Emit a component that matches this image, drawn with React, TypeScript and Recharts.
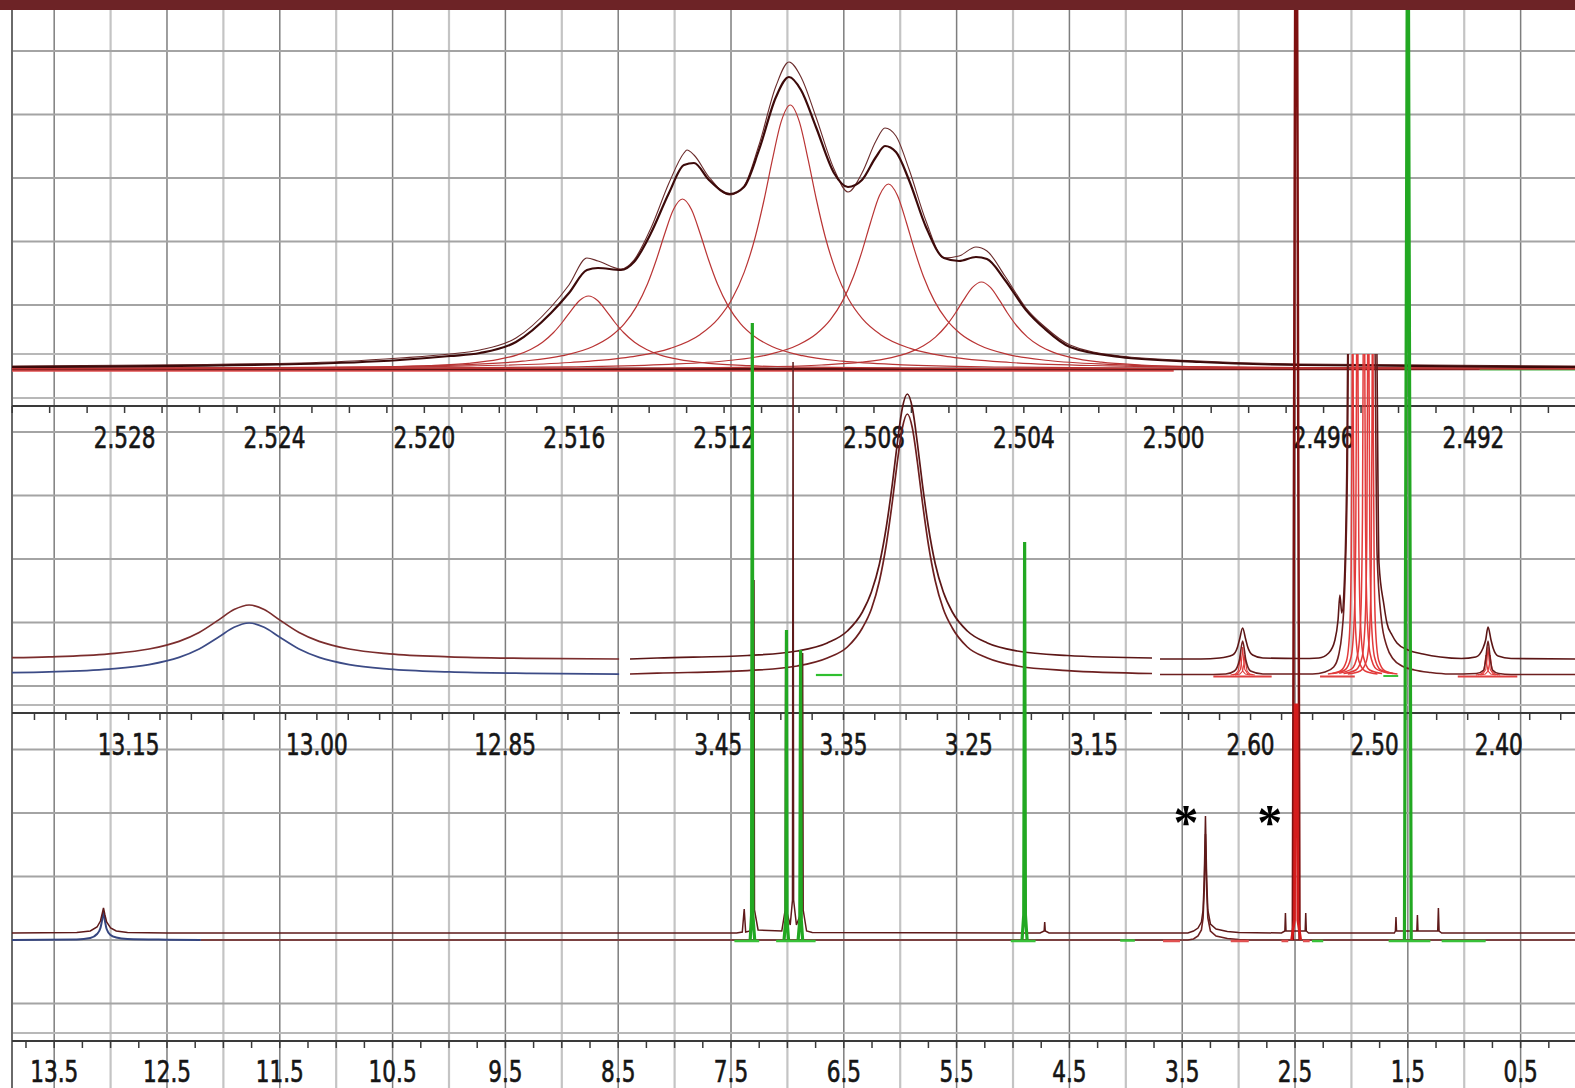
import React from 'react';
import { LineChart, Line, XAxis, YAxis, ReferenceLine, ReferenceDot } from 'recharts';

type Pair = [number, number | null];

const W = 1575;
const H = 1088;
const FONT = "'DejaVu Sans Condensed', 'DejaVu Sans', sans-serif";
const AX = '#3a3a3a';

// ---------------- grid (ppm of the full-range axis, grid rows) ----------------
const GRID_HALF_PPM = [13.5, 12.5, 11.5, 10.5, 9.5, 8.5, 7.5, 6.5, 5.5, 4.5, 3.5, 2.5, 1.5, 0.5];
const GRID_INT_PPM = [13, 12, 11, 10, 9, 8, 7, 6, 5, 4, 3, 2, 1];
const GRID_ROWS = [0, 1, 2, 3, 4, 5, 6, 7, 8, 9, 10, 11, 12, 13, 14, 15];
const FRAME_ROWS = [4.772, 5.465, 10.299, 15.465];

// ---------------- axis domains ----------------
const FULL_DOMAIN: [number, number] = [0.018, 13.874];
const TOP_DOMAIN: [number, number] = [2.48929, 2.531005];
const MID_A_DOMAIN: [number, number] = [12.7585, 13.2429];
const MID_B_DOMAIN: [number, number] = [3.1037, 3.5204];
const MID_C_DOMAIN: [number, number] = [2.3385, 2.673];

// ---------------- tick labels ----------------
const TOP_LABELS = ['2.528', '2.524', '2.520', '2.516', '2.512', '2.508', '2.504', '2.500', '2.496', '2.492'];
const MID_A_LABELS = ['13.15', '13.00', '12.85'];
const MID_B_LABELS = ['3.45', '3.35', '3.25', '3.15'];
const MID_C_LABELS = ['2.60', '2.50', '2.40'];
const BOTTOM_LABELS = ['13.5', '12.5', '11.5', '10.5', '9.5', '8.5', '7.5', '6.5', '5.5', '4.5', '3.5', '2.5', '1.5', '0.5'];

// ---------------- top panel: quintet at 2.51 ppm ----------------
const TOP_FIT: Pair[] = [
  [2.531005, 2], [2.523319, 5], [2.52065, 9], [2.519316, 13], [2.518515, 16], [2.517554, 27], [2.51662, 56],
  [2.51614, 76], [2.51566, 99], [2.515366, 101], [2.514752, 99], [2.514405, 107], [2.513951, 136], [2.513471, 176],
  [2.513071, 204], [2.512804, 206], [2.512404, 189], [2.511843, 175], [2.511469, 182], [2.511069, 219],
  [2.510615, 272], [2.510269, 292], [2.509948, 279], [2.509548, 242], [2.509067, 196], [2.508694, 182],
  [2.50832, 189], [2.507947, 212], [2.507706, 223], [2.507413, 217], [2.507066, 189], [2.506612, 142],
  [2.506132, 111], [2.505731, 108], [2.505278, 112], [2.504984, 110], [2.504504, 89], [2.503943, 59],
  [2.503436, 40], [2.502769, 22], [2.501435, 12], [2.499299, 7], [2.496631, 4], [2.48929, 2],
];
const TOP_EXP: Pair[] = [
  [2.531005, 3], [2.523319, 6], [2.52065, 11], [2.519316, 15], [2.518515, 19], [2.517554, 31], [2.51662, 62],
  [2.51614, 84], [2.51566, 111], [2.515366, 108], [2.514752, 100], [2.514405, 109], [2.513951, 141], [2.513471, 186],
  [2.513071, 216], [2.512991, 219], [2.512804, 214], [2.512404, 192], [2.511843, 174], [2.511469, 183],
  [2.511069, 224], [2.510615, 283], [2.510269, 307], [2.509948, 292], [2.509548, 252], [2.509067, 200],
  [2.508694, 177], [2.50832, 196], [2.507947, 228], [2.507706, 241], [2.507413, 233], [2.507066, 200],
  [2.506612, 148], [2.506132, 111], [2.505731, 113], [2.505278, 122], [2.504984, 118], [2.504504, 93],
  [2.503943, 61], [2.503436, 42], [2.502769, 24], [2.501435, 13], [2.499299, 8], [2.496631, 5], [2.48929, 3],
];
const TOP_COMP_CENTERS = [2.515617, 2.513111, 2.510234, 2.507613, 2.505131];
const TOP_COMP_OFFSETS = [0, 0.00024, 0.00048, 0.000694, 0.000934, 0.001228, 0.001548, 0.001922, 0.002402, 0.003203, 0.00427, 0.005871, 0.00854, 0.01201];
const TOP_COMP_VALUES = [
  [73, 68.5, 57.7, 47, 36.5, 26.8, 19.5, 13.9, 9.6, 5.7, 3.3, 1.8, 0.9, 0.4],
  [170, 159.5, 134.5, 109.5, 85, 62.4, 45.4, 32.5, 22.3, 13.3, 7.8, 4.2, 2.0, 1.0],
  [264, 247.6, 208.8, 170, 132, 96.9, 70.5, 50.4, 34.6, 20.6, 12.1, 6.5, 3.1, 1.6],
  [185, 173.5, 146.3, 119.1, 92.5, 67.9, 49.4, 35.3, 24.2, 14.4, 8.5, 4.6, 2.2, 1.1],
  [87, 81.6, 68.8, 56, 43.5, 31.9, 23.2, 16.6, 11.4, 6.8, 4.0, 2.1, 1.0, 0.5],
];
const TOP_COMP_EDGES = [[0.3, 0.2], [0.5, 0.4], [0.7, 0.7], [0.5, 0.6], [0.2, 0.3]];
const TOP_BASE_DARK: Pair[] = [[2.531005, 0], [2.49183, 0]];
const TOP_BASE_RED: Pair[] = [[2.531005, -1.8], [2.5, -1.8]];
const TOP_BASE_GREEN: Pair[] = [[2.49183, -0.5], [2.48929, -0.5]];

// ---------------- middle panel ----------------
const MID_A_UPPER: Pair[] = [
  [13.2429, 17.3], [13.2134, 18.2], [13.1656, 21.2], [13.1337, 26], [13.1098, 33.6], [13.0938, 42.5],
  [13.0779, 55.4], [13.066, 65.4], [13.054, 70], [13.042, 65.4], [13.0301, 55.4], [13.0142, 42.5],
  [12.9982, 33.6], [12.9743, 26], [12.9424, 21.2], [12.8946, 18.2], [12.8309, 16.7], [12.7592, 16],
];
const MID_A_LOWER: Pair[] = [
  [13.2429, 2.3], [13.2134, 3.1], [13.1656, 5.9], [13.1337, 10.4], [13.1098, 17.6], [13.0938, 26],
  [13.0779, 38.2], [13.066, 47.7], [13.054, 52], [13.042, 47.7], [13.0301, 38.2], [13.0142, 26],
  [12.9982, 17.6], [12.9743, 10.4], [12.9424, 5.9], [12.8946, 3.1], [12.8309, 1.6], [12.7592, 0.9],
];
const MID_B_UPPER: Pair[] = [
  [3.5204, 16], [3.4986, 17], [3.4267, 19.5], [3.3868, 24], [3.3629, 32], [3.3469, 44], [3.3349, 63],
  [3.3277, 83], [3.3213, 111], [3.3158, 148], [3.311, 191], [3.307, 232], [3.303, 267], [3.299, 281],
  [3.295, 267], [3.291, 232], [3.287, 191], [3.2822, 148], [3.2767, 111], [3.2703, 83], [3.2631, 63],
  [3.2511, 44], [3.2351, 32], [3.2112, 24], [3.1713, 19.5], [3.1037, 17],
];
const MID_B_LOWER: Pair[] = [
  [3.5204, 1], [3.4986, 1.8], [3.4267, 4.4], [3.3868, 9], [3.3629, 17], [3.3469, 28], [3.3349, 47],
  [3.3277, 66], [3.3213, 94], [3.3158, 130.5], [3.311, 173], [3.307, 213], [3.303, 247], [3.299, 261],
  [3.295, 247], [3.291, 213], [3.287, 173], [3.2822, 130.5], [3.2767, 94], [3.2703, 66], [3.2631, 47],
  [3.2511, 28], [3.2351, 17], [3.2112, 9], [3.1713, 4.4], [3.1037, 1.5],
];
const MID_B_GREEN: Pair[] = [[3.372, 0], [3.351, 0]];
const MID_C_UPPER: Pair[] = [
  [2.673, 16], [2.64, 16], [2.625, 17], [2.6145, 20], [2.6105, 28], [2.6088, 36], [2.6064, 47], [2.604, 36],
  [2.6023, 28], [2.5983, 20], [2.59, 17], [2.56, 16.5], [2.545, 17], [2.537, 22], [2.532, 35], [2.5295, 55],
  [2.528, 80], [2.5265, 62], [2.5245, 90], [2.5225, 200], [2.521, 400], [2.499, 400], [2.4965, 112],
  [2.4925, 70], [2.4901, 52], [2.486, 40], [2.482, 32], [2.473, 25], [2.461, 21], [2.447, 18], [2.43, 16.5],
  [2.4185, 18], [2.4126, 27], [2.4105, 35], [2.4086, 48], [2.4062, 35], [2.4045, 27], [2.4005, 19],
  [2.39, 16.5], [2.3385, 16],
];
const MID_C_LOWER: Pair[] = [
  [2.673, 0.5], [2.64, 0.5], [2.62, 1], [2.613, 4], [2.609, 15], [2.6064, 34], [2.6038, 15], [2.6, 4],
  [2.59, 1], [2.55, 1], [2.54, 3], [2.533, 8], [2.529, 20], [2.5265, 40], [2.524, 90], [2.522, 200],
  [2.5205, 400], [2.5005, 400], [2.498, 120], [2.4945, 55], [2.49, 28], [2.485, 16], [2.478, 9],
  [2.468, 5], [2.455, 2.5], [2.44, 1], [2.418, 1.5], [2.412, 5], [2.4105, 15], [2.4086, 34], [2.4067, 15],
  [2.405, 5], [2.4, 1.5], [2.39, 0.5], [2.3385, 0.5],
];
const MID_C_DMSO_CENTERS = [2.5177, 2.514, 2.5086, 2.5051, 2.5016];
const MID_C_DMSO_OFFSETS = [0, 0.0005, 0.0012, 0.0025, 0.005, 0.01, 0.02];
const MID_C_DMSO_VALUES = [
  [400, 260, 110, 42, 14, 4, 1],
  [400, 330, 140, 55, 18, 5, 1.5],
  [400, 360, 160, 62, 21, 6, 1.8],
  [400, 330, 140, 55, 18, 5, 1.5],
  [400, 260, 110, 42, 14, 4, 1],
];
const MID_C_SAT_CENTERS = [2.6082, 2.6064, 2.6046, 2.4104, 2.4086, 2.4068];
const MID_C_SAT_OFFSETS = [0, 0.0008, 0.0018, 0.004, 0.008];
const MID_C_SAT_VALUES = [
  [20, 11, 4, 1, 0], [28, 15, 5.5, 1.4, 0], [20, 11, 4, 1, 0],
  [20, 11, 4, 1, 0], [28, 15, 5.5, 1.4, 0], [20, 11, 4, 1, 0],
];
const MID_C_RED_BASE: Pair[] = [
  [2.63, -1.5], [2.583, -1.5], [2.58, null], [2.544, -1.5], [2.516, -1.5], [2.51, null], [2.433, -1.5], [2.385, -1.5],
];
const MID_C_GREEN: Pair[] = [[2.493, -1], [2.481, -1]];

// ---------------- bottom panel: full spectrum ----------------
const BOTTOM_UPPER: Pair[] = [
  [13.874, 7], [13.3, 7.5], [13.18, 9], [13.12, 13], [13.09, 19], [13.075, 26], [13.063, 32], [13.05, 25],
  [13.035, 18], [13.0, 12], [12.95, 9], [12.85, 7.5], [12.5, 7], [7.45, 7], [7.4, 8], [7.383, 31], [7.37, 8],
  [7.33, 9], [7.3, 30], [7.296, 360], [7.292, 30], [7.26, 10], [7.05, 9], [7.02, 30], [7.015, 308], [7.01, 30],
  [6.975, 15], [6.955, 40], [6.95, 578], [6.945, 40], [6.92, 15], [6.87, 30], [6.865, 287], [6.86, 30],
  [6.83, 9], [6.78, 7.5], [4.76, 7], [4.724, 9], [4.719, 18], [4.714, 9], [4.68, 7], [3.45, 7], [3.4, 9],
  [3.36, 12], [3.33, 18], [3.315, 30], [3.305, 60], [3.298, 100], [3.294, 124], [3.29, 100], [3.283, 60],
  [3.273, 30], [3.25, 16], [3.2, 11], [3.1, 8.5], [3.0, 7.5], [2.62, 7], [2.59, 9], [2.585, 27], [2.58, 9],
  [2.41, 9], [2.405, 27], [2.4, 9], [2.38, 7], [1.62, 7], [1.61, 9], [1.605, 23], [1.6, 9], [1.42, 9],
  [1.415, 25], [1.41, 9], [1.235, 9], [1.229, 32], [1.223, 9], [1.2, 7], [0.018, 7],
];
const BOTTOM_LOWER_BLUE: Pair[] = [
  [13.874, 0], [13.3, 0.5], [13.18, 2], [13.12, 6], [13.09, 12], [13.075, 20], [13.063, 28], [13.05, 19],
  [13.035, 11], [13.0, 5], [12.95, 2.5], [12.85, 1], [12.5, 0.3], [12.2, 0],
];
const BOTTOM_LOWER: Pair[] = [
  [12.2, 0], [3.45, 0], [3.4, 1], [3.36, 4], [3.33, 10], [3.315, 22], [3.305, 50], [3.298, 85], [3.294, 106],
  [3.29, 85], [3.283, 50], [3.273, 22], [3.25, 9], [3.2, 4], [3.1, 1.5], [3.0, 0.5], [2.9, 0], [0.018, 0],
];
const BOTTOM_GREEN_PEAKS: Pair[][] = [
  [[7.33, 0], [7.318, 25], [7.311, 617], [7.306, 25], [7.29, 0]],
  [[7.03, 0], [7.014, 20], [7.008, 310], [7.003, 20], [6.99, 0]],
  [[6.905, 0], [6.89, 20], [6.883, 290], [6.877, 20], [6.865, 0]],
  [[4.92, 0], [4.905, 25], [4.897, 398], [4.89, 25], [4.875, 0]],
  [[1.53, 0], [1.506, 930], [1.494, 930], [1.47, 0]],
];
const BOTTOM_GREEN_BASE: Pair[] = [
  [7.47, -1], [7.25, -1], [7.2, null], [7.1, -1], [6.75, -1], [6.7, null], [5.02, -1], [4.8, -1], [4.7, null],
  [4.05, -0.5], [3.92, -0.5], [3.9, null], [2.35, -1], [2.25, -1], [2.2, null], [1.67, -1], [1.3, -1],
  [1.25, null], [1.2, -1], [0.81, -1],
];
const BOTTOM_RED_BASE: Pair[] = [
  [3.67, -1], [3.52, -1], [3.5, null], [3.07, -1], [2.91, -1], [2.9, null], [2.62, -1], [2.56, -1],
  [2.55, null], [2.43, -1], [2.37, -1],
];
const BOTTOM_DMSO_TALL: Pair[] = [[2.52, 0], [2.499, 930], [2.481, 930], [2.46, 0]];
const BOTTOM_DMSO_LOW: Pair[] = [[2.53, 0], [2.505, 20], [2.4985, 235], [2.4815, 235], [2.475, 20], [2.45, 0]];
const ASTERISKS: Pair[] = [[3.466, 119], [2.725, 119]];

// ---------------- helpers ----------------
const pts = (arr: Pair[]) => arr.map(([x, y]) => ({ x, y }));

function mirrorPeak(center: number, offsets: number[], values: number[], left?: Pair, right?: Pair): Pair[] {
  const out: Pair[] = [];
  if (left) out.push(left);
  for (let i = offsets.length - 1; i >= 1; i--) out.push([center + offsets[i], values[i]]);
  out.push([center, values[0]]);
  for (let i = 1; i < offsets.length; i++) out.push([center - offsets[i], values[i]]);
  if (right) out.push(right);
  return out;
}

function tickRange(a: number, b: number, step: number): number[] {
  const out: number[] = [];
  const n = Math.round((a - b) / step);
  for (let i = 0; i <= n; i++) out.push(Math.round((a - i * step) * 1e6) / 1e6);
  return out;
}

const TOP_TICKS = tickRange(2.531, 2.49, 0.001);
const MID_A_TICKS = tickRange(13.225, 12.775, 0.025);
const MID_B_TICKS = tickRange(3.5, 3.125, 0.025);
const MID_C_TICKS = tickRange(2.65, 2.35, 0.025);
const BOTTOM_TICKS = tickRange(13.75, 0.25, 0.25);

function makeTick(labels: string[], digits: number, dy: number) {
  return (props: any) => {
    const { x, y, payload } = props;
    const s = Number(payload.value).toFixed(digits);
    if (!labels.includes(s)) return <g />;
    return (
      <text
        transform={`translate(${x},${y + dy}) scale(1,1.25)`}
        textAnchor="middle"
        fontSize={24}
        fontFamily={FONT}
        fill="#151515"
        stroke="#151515"
        strokeWidth={0.5}
      >
        {s}
      </text>
    );
  };
}

const lineProps = {
  dataKey: 'y',
  dot: false,
  activeDot: false,
  isAnimationActive: false,
  connectNulls: false,
} as const;

function axisProps(domain: [number, number], ticks: number[], labels: string[], digits: number, height: number, dy: number) {
  return {
    dataKey: 'x',
    type: 'number' as const,
    domain,
    reversed: true,
    allowDataOverflow: true,
    ticks,
    interval: 0 as const,
    height,
    tickSize: 7,
    tickMargin: 0,
    axisLine: { stroke: AX, strokeWidth: 2 },
    tickLine: { stroke: AX, strokeWidth: 1.5 },
    tick: makeTick(labels, digits, dy),
  };
}

function Background() {
  return (
    <LineChart width={W} height={H} margin={{ top: 10, right: 0, bottom: 0, left: 12 }}>
      <XAxis dataKey="x" type="number" domain={FULL_DOMAIN} reversed allowDataOverflow hide />
      <YAxis type="number" domain={[-0.6457, 16.331]} reversed allowDataOverflow hide />
      {GRID_INT_PPM.map((v) => (
        <ReferenceLine key={'gi' + v} x={v} stroke="#c4c4c4" strokeWidth={2.2} />
      ))}
      {GRID_HALF_PPM.map((v) => (
        <ReferenceLine key={'gh' + v} x={v} stroke="#7e7e7e" strokeWidth={1.5} />
      ))}
      {GRID_ROWS.map((v) => (
        <ReferenceLine key={'gr' + v} y={v} stroke="#a4a4a4" strokeWidth={2} />
      ))}
      {FRAME_ROWS.map((v) => (
        <ReferenceLine key={'fr' + v} y={v} stroke="#b8b8b8" strokeWidth={2} />
      ))}
      <ReferenceLine x={13.874} stroke="#6a6a6a" strokeWidth={2} />
      <Line {...lineProps} data={pts([[13.874, 0], [0.018, 0]])} stroke="none" />
    </LineChart>
  );
}

function TopPanel() {
  return (
    <LineChart width={W} height={470} margin={{ top: 10, right: 0, bottom: 0, left: 12 }}>
      <XAxis {...axisProps(TOP_DOMAIN, TOP_TICKS, TOP_LABELS, 3, 64, 35)} />
      <YAxis type="number" domain={[-37, 359]} allowDataOverflow hide />
      <Line {...lineProps} type="linear" data={pts(TOP_BASE_RED)} stroke="#e05050" strokeWidth={1.8} />
      <Line {...lineProps} type="linear" data={pts(TOP_BASE_DARK)} stroke="#5a0f0f" strokeWidth={2.6} />
      <Line {...lineProps} type="linear" data={pts(TOP_BASE_GREEN)} stroke="#3cae3c" strokeWidth={2.2} />
      {TOP_COMP_CENTERS.map((c, i) => (
        <Line
          key={'tc' + i}
          {...lineProps}
          type="monotone"
          data={pts(
            mirrorPeak(c, TOP_COMP_OFFSETS, TOP_COMP_VALUES[i], [TOP_DOMAIN[1], TOP_COMP_EDGES[i][0]], [TOP_DOMAIN[0], TOP_COMP_EDGES[i][1]])
          )}
          stroke="#b93434"
          strokeWidth={1.2}
        />
      ))}
      <Line {...lineProps} type="monotone" data={pts(TOP_EXP)} stroke="#6a2b2b" strokeWidth={1.1} />
      <Line {...lineProps} type="monotone" data={pts(TOP_FIT)} stroke="#3d0a0a" strokeWidth={2.2} />
    </LineChart>
  );
}

const MID_TOP = 354;
const MID_AXIS_H = 64;
const MID_H = 359 + MID_AXIS_H;

function MidA() {
  return (
    <LineChart width={608} height={MID_H} margin={{ top: 0, right: 0, bottom: 0, left: 0 }}>
      <XAxis {...axisProps(MID_A_DOMAIN, MID_A_TICKS, MID_A_LABELS, 2, MID_AXIS_H, 35)} />
      <YAxis type="number" domain={[-38, 321]} allowDataOverflow hide />
      <Line {...lineProps} type="monotone" data={pts(MID_A_LOWER)} stroke="#3c4b86" strokeWidth={1.7} />
      <Line {...lineProps} type="monotone" data={pts(MID_A_UPPER)} stroke="#7b2d2d" strokeWidth={1.7} />
    </LineChart>
  );
}

function MidB() {
  return (
    <LineChart width={522} height={MID_H} margin={{ top: 0, right: 0, bottom: 0, left: 0 }}>
      <XAxis {...axisProps(MID_B_DOMAIN, MID_B_TICKS, MID_B_LABELS, 2, MID_AXIS_H, 35)} />
      <YAxis type="number" domain={[-38, 321]} allowDataOverflow hide />
      <Line {...lineProps} type="linear" data={pts(MID_B_GREEN)} stroke="#2fbf2f" strokeWidth={2.2} />
      <Line {...lineProps} type="monotone" data={pts(MID_B_LOWER)} stroke="#6d1f1f" strokeWidth={1.7} />
      <Line {...lineProps} type="monotone" data={pts(MID_B_UPPER)} stroke="#5c1616" strokeWidth={1.7} />
    </LineChart>
  );
}

function MidC() {
  return (
    <LineChart width={415} height={MID_H} margin={{ top: 0, right: 0, bottom: 0, left: 0 }}>
      <XAxis {...axisProps(MID_C_DOMAIN, MID_C_TICKS, MID_C_LABELS, 2, MID_AXIS_H, 35)} />
      <YAxis type="number" domain={[-38, 321]} allowDataOverflow hide />
      <Line {...lineProps} type="linear" data={pts(MID_C_RED_BASE)} stroke="#e04040" strokeWidth={2.2} />
      <Line {...lineProps} type="linear" data={pts(MID_C_GREEN)} stroke="#3cc03c" strokeWidth={2} />
      {MID_C_SAT_CENTERS.map((c, i) => (
        <Line key={'sat' + i} {...lineProps} type="linear" data={pts(mirrorPeak(c, MID_C_SAT_OFFSETS, MID_C_SAT_VALUES[i]))} stroke="#e03a3a" strokeWidth={1.1} />
      ))}
      {MID_C_DMSO_CENTERS.map((c, i) => (
        <Line key={'dm' + i} {...lineProps} type="monotone" data={pts(mirrorPeak(c, MID_C_DMSO_OFFSETS, MID_C_DMSO_VALUES[i]))} stroke="#e23a3a" strokeWidth={1.5} />
      ))}
      <Line {...lineProps} type="monotone" data={pts(MID_C_LOWER)} stroke="#6d1f1f" strokeWidth={1.6} />
      <Line {...lineProps} type="monotone" data={pts(MID_C_UPPER)} stroke="#5c1616" strokeWidth={1.6} />
    </LineChart>
  );
}

function BottomPanel() {
  return (
    <LineChart width={W} height={H} margin={{ top: 10, right: 0, bottom: 0, left: 12 }}>
      <XAxis {...axisProps(FULL_DOMAIN, BOTTOM_TICKS, BOTTOM_LABELS, 1, 47, 34)} />
      <YAxis type="number" domain={[-101, 930]} allowDataOverflow hide />
      <Line {...lineProps} type="linear" data={pts(BOTTOM_LOWER)} stroke="#6d2020" strokeWidth={1.6} />
      <Line {...lineProps} type="monotone" data={pts(BOTTOM_LOWER_BLUE)} stroke="#35457f" strokeWidth={2} />
      <Line {...lineProps} type="linear" data={pts(BOTTOM_GREEN_BASE)} stroke="#39c039" strokeWidth={2.6} />
      <Line {...lineProps} type="linear" data={pts(BOTTOM_RED_BASE)} stroke="#e05050" strokeWidth={2.4} />
      <Line {...lineProps} type="linear" data={pts(BOTTOM_UPPER)} stroke="#5e1a1a" strokeWidth={1.5} />
      {BOTTOM_GREEN_PEAKS.map((p, i) => (
        <Line key={'gp' + i} {...lineProps} type="linear" data={pts(p)} stroke="#22a822" strokeWidth={3.2} />
      ))}
      <Line {...lineProps} type="linear" data={pts(BOTTOM_DMSO_TALL)} stroke="#7e1010" strokeWidth={2.5} />
      <Line {...lineProps} type="linear" data={pts(BOTTOM_DMSO_LOW)} stroke="#d41c1c" strokeWidth={2.8} />
      {ASTERISKS.map(([x, y], i) => (
        <ReferenceDot
          key={'ast' + i}
          x={x}
          y={y as number}
          r={0}
          fill="none"
          stroke="none"
          label={{ value: '*', position: 'center', fontSize: 50, fontWeight: 700, fill: '#000', fontFamily: 'Liberation Serif, serif' }}
        />
      ))}
    </LineChart>
  );
}

export default function App() {
  const abs = (left: number, top: number): React.CSSProperties => ({ position: 'absolute', left, top });
  return (
    <div style={{ position: 'absolute', left: 0, top: 0, width: W, height: H, background: '#ffffff', overflow: 'hidden' }}>
      <div style={abs(0, 0)}>
        <Background />
      </div>
      <div style={abs(0, 0)}>
        <TopPanel />
      </div>
      <div style={abs(12, MID_TOP)}>
        <MidA />
      </div>
      <div style={abs(630, MID_TOP)}>
        <MidB />
      </div>
      <div style={abs(1160, MID_TOP)}>
        <MidC />
      </div>
      <div style={abs(0, 0)}>
        <BottomPanel />
      </div>
      <div style={{ position: 'absolute', left: 0, top: 0, width: W, height: 10, background: '#6d2326' }} />
    </div>
  );
}
